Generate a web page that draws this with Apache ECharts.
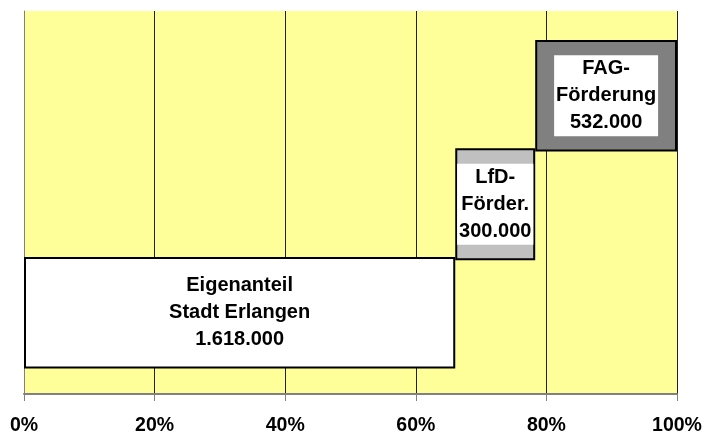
<!DOCTYPE html>
<html>
<head>
<meta charset="utf-8">
<script src="https://cdn.jsdelivr.net/npm/echarts@6/dist/echarts.min.js"></script>
<style>
  html, body { margin: 0; padding: 0; background: #fff; }
  #main { width: 705px; height: 436px; }
</style>
</head>
<body>
<div id="main"></div>
<script>
// Finanzierungsanteile
var categories = ['Eigenanteil\nStadt Erlangen', 'LfD-\nFörder.', 'FAG-\nFörderung'];
var values = [1618000, 300000, 532000];
var tickLabels = ['0%', '20%', '40%', '60%', '80%', '100%'];
var barColors = ['#FFFFFF', '#C0C0C0', '#808080'];

var total = values.reduce(function(a, b) { return a + b; }, 0);

// Sockel für den Wasserfall (kumulierte Summe davor)
var base = [];
var acc = 0;
for (var i = 0; i < values.length; i++) {
  base.push(acc);
  acc += values[i];
}

function fmt(n) {
  return String(n).replace(/\B(?=(\d{3})+(?!\d))/g, '.');
}

var font = 'Liberation Sans, Arial, sans-serif';

var chart = echarts.init(document.getElementById('main'));

var option = {
  animation: false,
  grid: [{
    left: 24, right: 28, top: 11, bottom: 39,
    show: true,
    backgroundColor: '#FFFF99',
    borderWidth: 0
  }, {
    left: 24, right: 28, top: 41, bottom: 68.5
  }],
  xAxis: [{
    gridIndex: 0,
    type: 'value',
    min: 0,
    max: total,
    interval: total / 5,
    axisLine: { show: true, lineStyle: { color: '#808080', width: 2 } },
    axisTick: { show: true, length: 7, lineStyle: { color: '#808080' } },
    splitLine: {
      show: true,
      showMinLine: false,
      lineStyle: { color: '#222', width: 1 }
    },
    axisLabel: {
      margin: 22,
      color: '#000',
      fontSize: 19.5,
      fontWeight: 'bold',
      fontFamily: font,
      formatter: function(v) {
        return tickLabels[Math.round(v / total * 5)];
      }
    }
  }, {
    gridIndex: 1,
    type: 'value',
    min: 0,
    max: total,
    show: false
  }],
  yAxis: [{
    gridIndex: 0,
    type: 'value',
    axisLine: { show: true, lineStyle: { color: '#808080', width: 1 } },
    axisTick: { show: false },
    axisLabel: { show: false },
    splitLine: { show: false }
  }, {
    gridIndex: 1,
    type: 'category',
    data: categories,
    show: false
  }],
  series: [{
    name: 'Sockel',
    type: 'bar',
    xAxisIndex: 1,
    yAxisIndex: 1,
    stack: 'wf',
    barWidth: 112,
    silent: true,
    itemStyle: { color: 'transparent', borderWidth: 0 },
    data: base
  }, {
    name: 'Betrag',
    type: 'bar',
    xAxisIndex: 1,
    yAxisIndex: 1,
    stack: 'wf',
    barWidth: 112,
    silent: true,
    data: values.map(function(v, i) {
      return {
        value: v,
        itemStyle: { color: barColors[i], borderColor: '#000', borderWidth: 2 }
      };
    }),
    label: {
      show: true,
      position: 'inside',
      color: '#000',
      fontSize: 20,
      fontWeight: 'bold',
      fontFamily: font,
      lineHeight: 27,
      align: 'center',
      backgroundColor: '#fff',
      padding: [0, 2],
      formatter: function(p) {
        return categories[p.dataIndex] + '\n' + fmt(p.value);
      }
    }
  }]
};

chart.setOption(option);
</script>
</body>
</html>
